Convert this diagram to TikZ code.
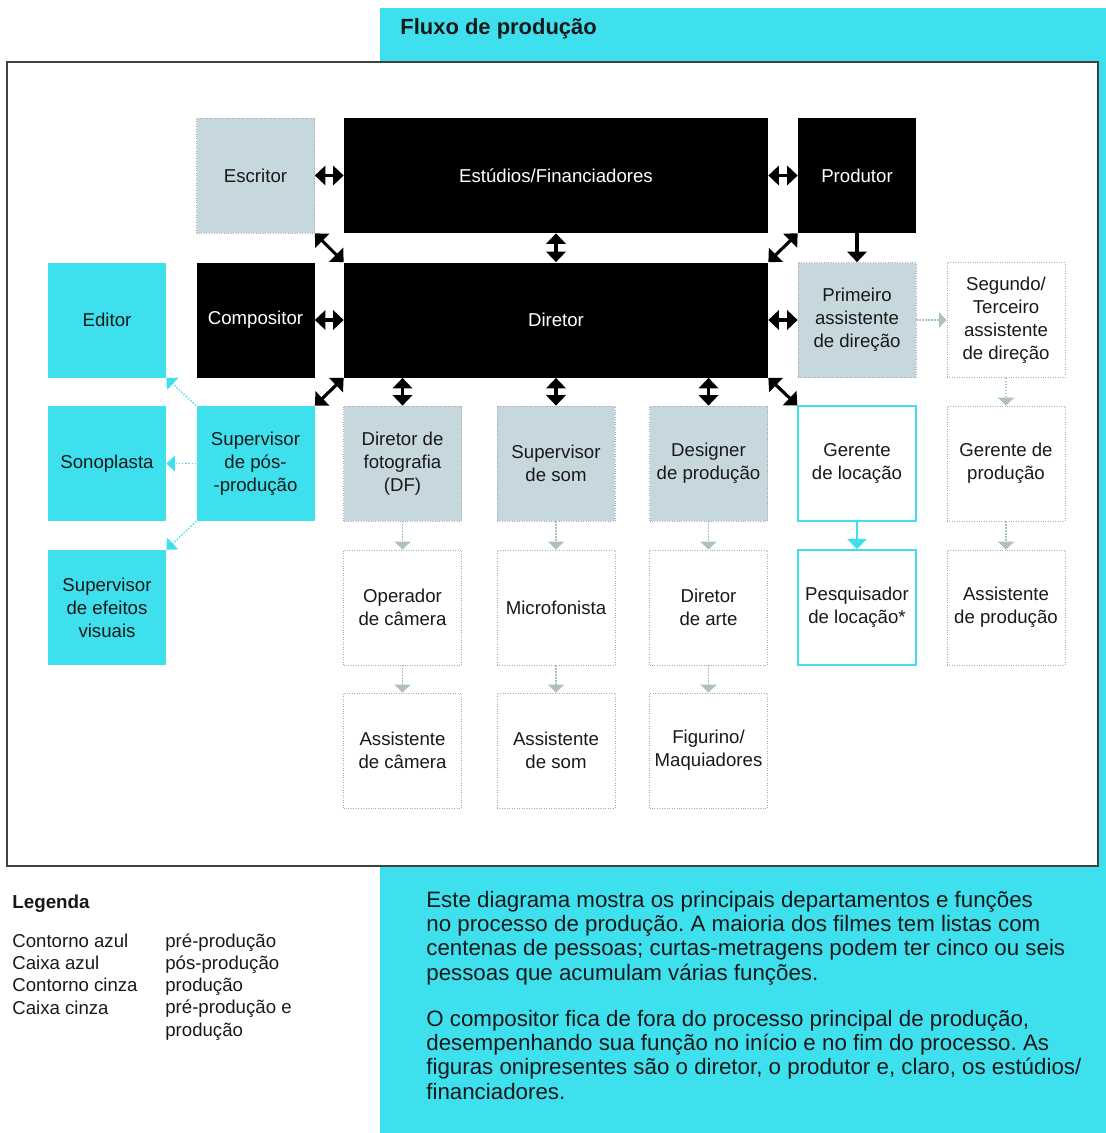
\documentclass[tikz,border=0pt]{standalone}
\usepackage{fontspec}
\setmainfont{Liberation Sans}
\frenchspacing
\usetikzlibrary{arrows.meta}
\definecolor{ciano}{RGB}{62,224,238}
\definecolor{cinzacaixa}{RGB}{198,216,221}
\definecolor{cinzaborda}{RGB}{165,172,175}
\definecolor{cinzaseta}{RGB}{175,192,197}
\definecolor{texto}{RGB}{25,25,25}

\begin{document}
\begin{tikzpicture}[
    caixa/.style={minimum width=2.36cm, minimum height=2.3cm, inner sep=0pt,
                  align=center, text=texto, font=\fontsize{10.6}{13}\selectfont},
    preta/.style={caixa, fill=black, text=white},
    cinza/.style={caixa, fill=cinzacaixa, draw=cinzaborda, densely dotted},
    contornocinza/.style={caixa, fill=white, draw=cinzaborda, densely dotted},
    azul/.style={caixa, fill=ciano},
    contornoazul/.style={caixa, fill=white, draw=ciano, line width=0.8pt},
    duplaseta/.style={{Triangle[width=11pt,length=6pt]}-{Triangle[width=11pt,length=6pt]},
                      line width=1.8pt},
    seta/.style={-{Triangle[width=11pt,length=6pt]}, line width=1.8pt},
    setacinza/.style={-{Triangle[width=9pt,length=4.5pt]}, cinzaseta, densely dotted,
                      line width=0.7pt},
    setaazul/.style={-{Triangle[width=9pt,length=5pt]}, ciano, densely dotted,
                     line width=0.8pt},
    legenda/.style={anchor=base west, align=left, inner sep=0pt, text=texto,
                    font=\fontsize{10.6}{12.65}\selectfont},
    corpo/.style={anchor=base west, align=left, inner sep=0pt, text=texto,
                  font=\fontsize{12.7}{13.8}\selectfont}
  ]
    \useasboundingbox (0, 0) rectangle (22.12, -22.66);
    \fill[ciano] (7.60, -0.16) rectangle (22.12, -22.66);
    \draw[draw=black!75, fill=white, line width=0.8pt] (0.14, -1.24) rectangle (21.96, -17.32);
    \node[anchor=base west, inner sep=0pt, font=\fontsize{12.5}{15}\selectfont\bfseries, text=texto]
      (titulo) at (8.0, -0.70) {Fluxo de produção};

    \node[cinza] (escritor) at (5.11, -3.51) {Escritor};
    \node[preta, minimum width=8.48cm] (estudios) at (11.12, -3.51) {Estúdios/Financiadores};
    \node[preta] (produtor) at (17.14, -3.51) {Produtor};

    \node[azul] (editor) at (2.14, -6.40) {Editor};
    \node[preta] (compositor) at (5.11, -6.40) {Compositor};
    \node[preta, minimum width=8.48cm] (diretor) at (11.12, -6.40) {Diretor};
    \node[cinza] (primeiro) at (17.14, -6.40) {Primeiro\\assistente\\de direção};
    \node[contornocinza] (segundo) at (20.12, -6.40) {Segundo/\\Terceiro\\assistente\\de direção};

    \node[azul] (sonoplasta) at (2.14, -9.27) {Sonoplasta};
    \node[azul] (suppos) at (5.11, -9.27) {Supervisor\\de pós-\\-produção};
    \node[cinza] (df) at (8.05, -9.27) {Diretor de\\fotografia\\(DF)};
    \node[cinza] (supsom) at (11.12, -9.27) {Supervisor\\de som};
    \node[cinza] (designer) at (14.17, -9.27) {Designer\\de produção};
    \node[contornoazul] (gerloc) at (17.14, -9.27) {Gerente\\de locação};
    \node[contornocinza] (gerprod) at (20.12, -9.27) {Gerente de\\produção};

    \node[azul] (efeitos) at (2.14, -12.15) {Supervisor\\de efeitos\\visuais};
    \node[contornocinza] (operador) at (8.05, -12.15) {Operador\\de câmera};
    \node[contornocinza] (micro) at (11.12, -12.15) {Microfonista};
    \node[contornocinza] (dirarte) at (14.17, -12.15) {Diretor\\de arte};
    \node[contornoazul] (pesq) at (17.14, -12.15) {Pesquisador\\de locação*};
    \node[contornocinza] (assprod) at (20.12, -12.15) {Assistente\\de produção};

    \node[contornocinza] (asscam) at (8.05, -15.01) {Assistente\\de câmera};
    \node[contornocinza] (asssom) at (11.12, -15.01) {Assistente\\de som};
    \node[contornocinza] (figurino) at (14.17, -15.01) {Figurino/\\Maquiadores};

    \draw[duplaseta] (escritor) -- (estudios);
    \draw[duplaseta] (estudios) -- (produtor);
    \draw[duplaseta] (compositor) -- (diretor);
    \draw[duplaseta] (diretor) -- (primeiro);
    \draw[duplaseta] (estudios) -- (diretor);
    \draw[duplaseta] (escritor.south east) -- (diretor.north west);
    \draw[duplaseta] (produtor.south west) -- (diretor.north east);
    \draw[duplaseta] (diretor.south west) -- (suppos.north east);
    \draw[duplaseta] (diretor.south east) -- (gerloc.north west);
    \draw[duplaseta] (diretor.south -| df.north) -- (df.north);
    \draw[duplaseta] (diretor.south -| supsom.north) -- (supsom.north);
    \draw[duplaseta] (diretor.south -| designer.north) -- (designer.north);
    \draw[seta] (produtor) -- (primeiro);

    \draw[setacinza] (primeiro) -- (segundo);
    \draw[setacinza] (segundo) -- (gerprod);
    \draw[setacinza] (gerprod) -- (assprod);
    \draw[setacinza] (df) -- (operador);
    \draw[setacinza] (operador) -- (asscam);
    \draw[setacinza] (supsom) -- (micro);
    \draw[setacinza] (micro) -- (asssom);
    \draw[setacinza] (designer) -- (dirarte);
    \draw[setacinza] (dirarte) -- (figurino);

    \draw[setaazul, solid, line width=1.4pt, -{Triangle[width=11pt,length=6pt]}] (gerloc) -- (pesq);
    \draw[setaazul] (suppos.north west) -- (editor.south east);
    \draw[setaazul] (suppos) -- (sonoplasta);
    \draw[setaazul] (suppos.south west) -- (efeitos.north east);

    \node[legenda, font=\fontsize{10.7}{13}\selectfont\bfseries] (legtitulo) at (0.24, -18.16) {Legenda};
    \node[legenda] (legchave) at (0.24, -20.28)
      {Contorno azul\\Caixa azul\\Contorno cinza\\Caixa cinza};
    \node[legenda] (legvalor) at (3.30, -20.72)
      {pré-produção\\pós-produção\\produção\\pré-produção e\\produção};

    \node[corpo] (texto1) at (8.52, -19.60)
      {Este diagrama mostra os principais departamentos e funções\\
       no processo de produção. A maioria dos filmes tem listas com\\
       centenas de pessoas; curtas-metragens podem ter cinco ou seis\\
       pessoas que acumulam várias funções.};
    \node[corpo] (texto2) at (8.52, -21.98)
      {O compositor fica de fora do processo principal de produção,\\
       desempenhando sua função no início e no fim do processo. As\\
       figuras onipresentes são o diretor, o produtor e, claro, os estúdios/\\
       financiadores.};
  \end{tikzpicture}
\end{document}
